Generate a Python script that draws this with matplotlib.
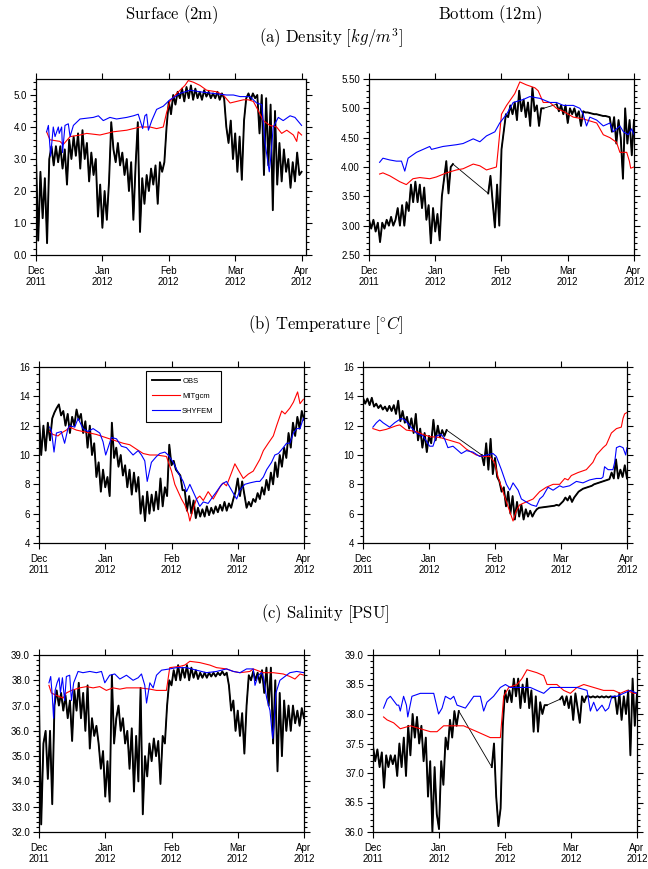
import matplotlib
matplotlib.use('Agg')
import matplotlib.pyplot as plt
import numpy as np
from matplotlib.ticker import MultipleLocator, FormatStrFormatter

plt.rcParams['font.family'] = 'Liberation Sans'
plt.rcParams['mathtext.fontset'] = 'cm'

W, H = 648, 869

# days since 1 Dec 2011, hourly record thinned to one value a day
days = np.arange(121)
month_ticks = [0, 30, 60, 90, 120]
month_labels = ['Dec\n2011', 'Jan\n2012', 'Feb\n2012', 'Mar\n2012', 'Apr\n2012']
nan = np.nan

# ---- density, surface ----
dens_sfc_obs = [3.0, 0.45, 2.6, 1.15, 2.4, 0.37, 3.0, 3.4, 2.8, 3.4,
                2.9, 3.4, 2.7, 3.3, 2.2, 3.6, 3.0, 3.7, 3.1, 3.8,
                2.7, 3.9, 3.0, 3.5, 2.3, 3.2, 2.5, 3.0, 1.2, 2.2,
                0.85, 2.0, 1.1, 2.3, 4.15, 3.3, 2.9, 3.5, 2.8, 3.2,
                2.5, 3.0, 2.0, 2.9, 1.1, 2.8, 4.15, 0.72, 2.4, 1.6,
                2.5, 2.0, 2.7, 2.2, 2.8, 1.6, 2.9, 2.6, 2.9, 4.0,
                4.8, 4.4, 5.0, 4.7, 5.1, 4.9, 5.2, 4.8, 5.25, 4.9,
                5.3, 4.85, 5.2, 4.9, 5.1, 4.85, 5.15, 4.95, 5.1, 4.9,
                5.05, 4.9, 5.1, 4.85, 5.05, 4.9, 4.0, 3.5, 4.2, 3.0,
                3.8, 2.6, 3.7, 2.35, 4.2, 4.9, 5.05, 4.85, 5.05, 4.9,
                5.0, 3.8, 5.0, 2.5, 4.9, 2.8, 4.7, 1.4, 4.5, 2.2,
                3.5, 2.3, 3.3, 2.6, 3.0, 2.1, 2.9, 2.3, 3.2, 2.5,
                2.6]
dens_sfc_mit_day = [4.8, 6.3, 10.8, 12.3, 15.4, 19.9, 22.9, 28.9, 31.9, 34.9,
                    41.0, 47.0, 51.5, 54.5, 57.5, 59.0, 60.5, 63.6, 67.3, 68.8,
                    71.1, 74.1, 77.1, 81.6, 84.6, 87.7, 90.7, 93.7, 95.9, 98.2,
                    100.5, 102.7, 105.7, 108.7, 111.0, 113.3, 116.3, 117.8, 118.5, 120.0]
dens_sfc_mit = [3.85, 3.6, 3.55, 3.45, 3.7, 3.75, 3.8, 3.75, 3.8, 3.85,
                3.9, 4.0, 4.0, 3.95, 4.0, 4.45, 4.8, 5.05, 5.3, 5.45,
                5.4, 5.3, 5.15, 5.1, 5.0, 4.75, 4.8, 4.85, 4.85, 4.8,
                4.5, 4.2, 4.05, 4.0, 3.8, 3.9, 3.75, 3.55, 3.85, 3.75]
dens_sfc_shy_day = [4.8, 5.6, 6.6, 7.8, 8.6, 10.1, 10.5, 11.6, 12.0, 13.1,
                    14.6, 15.4, 16.9, 19.9, 25.9, 28.2, 30.4, 33.4, 36.4, 41.0,
                    44.0, 46.2, 48.2, 49.2, 50.0, 50.8, 52.3, 54.5, 57.5, 60.5,
                    65.1, 69.6, 74.1, 80.1, 86.1, 89.2, 92.2, 96.7, 99.7, 102.0,
                    103.5, 105.4, 106.0, 107.2, 109.5, 111.7, 114.8, 117.0, 120.0]
dens_sfc_shy = [3.85, 4.05, 3.1, 4.0, 3.7, 4.0, 3.8, 4.0, 3.2, 4.05,
                4.1, 3.7, 4.05, 4.25, 4.3, 4.35, 4.2, 4.3, 4.25, 4.3,
                4.35, 4.4, 3.95, 4.35, 4.4, 3.9, 4.2, 4.55, 4.65, 4.85,
                5.05, 5.15, 5.1, 5.05, 5.0, 5.0, 4.95, 4.95, 4.75, 4.7,
                3.5, 2.6, 3.0, 4.0, 4.3, 4.2, 4.35, 4.3, 4.05]

# ---- density, bottom ----
dens_bot_obs = [3.1, 2.95, 3.1, 2.9, 3.05, 2.72, 3.05, 2.95, 3.1, 3.0,
                3.15, 3.0, 3.1, 3.3, 3.0, 3.35, 3.0, 3.4, 3.25, 3.7,
                3.4, 3.75, 3.4, 3.7, 3.3, 3.65, 3.1, 3.35, 2.7, 3.3,
                2.9, 3.2, 2.75, 3.5, 3.8, 4.1, 3.55, 4.0, 4.05, nan,
                nan, nan, nan, nan, nan, nan, nan, nan, nan, nan,
                nan, nan, nan, nan, 3.55, 3.85, 3.4, 2.97, 3.7, 3.0,
                4.3, 4.6, 4.9, 4.85, 5.05, 4.9, 5.1, 4.8, 5.3, 4.95,
                5.15, 4.85, 5.1, 4.7, 5.35, 4.95, 5.05, 4.7, 5.0, 5.0,
                nan, nan, nan, nan, nan, 5.07, 4.95, 5.05, 4.9, 5.05,
                4.75, 5.0, 4.9, 5.0, 4.85, 4.95, 4.7, 4.95, 4.93, 4.93,
                4.92, 4.91, 4.9, 4.9, 4.89, 4.88, 4.87, 4.87, 4.86, 4.85,
                4.6, 4.85, 4.4, 4.8, 4.5, 3.8, 5.0, 4.4, 4.8, 4.2,
                4.8]
dens_bot_mit_day = [4.8, 6.3, 9.4, 13.9, 16.9, 19.9, 23.0, 27.5, 30.5, 35.1,
                    39.6, 42.6, 47.2, 50.2, 53.2, 57.7, 58.5, 60.0, 62.3, 66.0,
                    68.3, 71.3, 75.1, 76.6, 78.9, 81.9, 84.9, 88.0, 92.5, 97.0,
                    103.1, 106.1, 109.1, 112.1, 113.6, 116.7, 117.9, 118.5, 120.0]
dens_bot_mit = [3.88, 3.9, 3.85, 3.75, 3.7, 3.8, 3.82, 3.8, 3.83, 3.9,
                3.95, 3.97, 4.05, 4.02, 3.95, 4.0, 4.3, 4.9, 5.05, 5.25,
                5.45, 5.4, 5.35, 5.3, 5.1, 5.1, 5.0, 4.95, 4.85, 4.82,
                4.75, 4.55, 4.5, 4.42, 4.25, 4.25, 4.1, 3.98, 4.0]
dens_bot_shy_day = [4.8, 6.3, 9.4, 12.4, 14.7, 16.2, 17.7, 21.5, 24.5, 27.5,
                    28.3, 33.5, 39.6, 42.6, 47.2, 50.2, 53.2, 57.0, 59.2, 62.3,
                    65.3, 69.8, 72.8, 77.4, 81.9, 84.9, 88.0, 92.5, 95.5, 97.0,
                    98.5, 100.0, 103.1, 106.1, 109.1, 110.6, 113.6, 115.2, 117.4, 118.9,
                    120.0]
dens_bot_shy = [4.08, 4.15, 4.12, 4.1, 4.1, 3.93, 4.15, 4.25, 4.3, 4.35,
                4.3, 4.35, 4.38, 4.4, 4.48, 4.43, 4.53, 4.6, 4.75, 4.9,
                5.1, 5.15, 5.2, 5.17, 5.1, 5.1, 5.05, 5.05, 5.0, 4.9,
                4.7, 4.85, 4.8, 4.7, 4.75, 4.6, 4.7, 4.6, 4.55, 4.65,
                4.55]

# ---- temperature, surface ----
temp_sfc_obs = [12.5, 10.0, 12.0, 10.3, 12.2, 11.0, 12.5, 12.9, 13.2, 13.45,
                12.7, 13.0, 12.0, 12.8, 11.5, 12.6, 12.0, 13.1, 12.4, 12.8,
                11.5, 12.3, 10.5, 12.0, 10.0, 10.8, 8.5, 9.5, 7.5, 9.0,
                7.8, 8.5, 7.2, 12.2, 9.8, 10.5, 9.2, 10.0, 8.6, 9.3,
                7.8, 9.0, 7.3, 8.8, 7.5, 8.5, 6.0, 7.2, 5.5, 7.5,
                6.0, 7.3, 6.2, 7.5, 6.3, 8.4, 6.5, 7.8, 7.2, 10.7,
                9.3, 9.6, 9.0, 8.8, 8.6, 7.6, 7.6, 6.2, 7.2, 6.0,
                6.9, 5.7, 6.4, 5.8, 6.3, 5.8, 6.5, 5.9, 6.4, 6.0,
                6.5, 6.1, 6.6, 6.2, 6.8, 6.2, 6.7, 6.4, 7.0, 7.5,
                8.4, 7.2, 8.2, 7.3, 6.4, 6.8, 6.5, 7.0, 6.8, 7.4,
                7.0, 7.8, 7.3, 8.3, 7.6, 8.8, 8.0, 9.5, 8.5, 10.0,
                9.2, 10.5, 9.8, 11.5, 10.5, 12.2, 11.3, 12.6, 11.8, 13.0,
                12.4]
temp_sfc_mit_day = [4.8, 6.3, 8.6, 10.1, 12.4, 13.9, 16.9, 19.9, 23.0, 26.0,
                    29.0, 32.0, 35.1, 38.1, 41.1, 42.6, 44.1, 47.2, 50.2, 53.2,
                    57.7, 60.0, 61.5, 63.0, 64.5, 66.0, 67.6, 68.3, 69.8, 71.3,
                    72.8, 74.4, 76.6, 78.9, 81.9, 83.4, 84.9, 87.2, 88.7, 90.2,
                    92.5, 94.8, 97.0, 98.5, 100.0, 101.6, 103.8, 106.1, 107.6, 109.9,
                    111.4, 113.6, 115.2, 117.1, 118.2, 119.7]
temp_sfc_mit = [11.6, 11.4, 11.3, 11.5, 11.7, 11.9, 11.7, 11.6, 11.5, 11.4,
                11.25, 11.1, 10.95, 10.8, 10.7, 10.55, 10.4, 10.1, 10.0, 10.0,
                9.9, 8.9, 8.0, 7.5, 7.0, 6.6, 6.0, 5.5, 6.3, 7.0,
                7.2, 6.9, 7.5, 7.0, 7.8, 8.1, 7.9, 8.8, 9.4, 9.0,
                8.4, 8.7, 8.9, 9.3, 9.7, 10.3, 10.8, 11.3, 12.0, 13.0,
                12.8, 13.2, 13.6, 14.3, 13.5, 13.8]
temp_sfc_shy_day = [4.8, 5.6, 6.8, 7.9, 10.1, 11.6, 13.1, 13.9, 16.2, 17.7,
                    19.9, 22.2, 24.5, 27.5, 29.0, 30.2, 31.3, 32.8, 35.1, 37.3,
                    39.6, 42.6, 44.9, 46.4, 47.9, 49.0, 50.9, 53.2, 54.7, 57.0,
                    58.5, 60.8, 63.0, 65.3, 66.8, 68.3, 69.8, 71.3, 72.8, 74.4,
                    76.6, 78.9, 80.4, 82.7, 84.9, 87.2, 88.7, 89.5, 91.0, 93.2,
                    95.5, 98.5, 100.0, 101.6, 103.1, 105.3, 106.8, 108.4, 110.6, 112.1,
                    113.6, 115.2, 116.7, 118.2, 119.7]
temp_sfc_shy = [11.9, 11.7, 10.2, 11.5, 11.6, 10.8, 11.8, 12.0, 11.9, 12.5,
                11.8, 11.6, 11.8, 11.5, 10.9, 10.0, 10.5, 11.2, 11.1, 10.6,
                10.5, 10.0, 10.3, 10.0, 9.6, 8.2, 9.5, 9.9, 10.1, 10.2,
                10.0, 9.5, 8.8, 8.2, 7.5, 8.0, 7.5, 7.0, 6.5, 6.8,
                6.7, 7.2, 7.5, 8.0, 8.2, 7.6, 7.2, 7.0, 7.6, 8.0,
                8.1, 8.2, 8.2, 8.5, 9.0, 9.5, 10.0, 10.1, 10.5, 10.8,
                10.8, 11.5, 11.8, 11.8, 12.5]

# ---- temperature, bottom ----
temp_bot_obs = [13.9, 13.5, 13.85, 13.4, 13.9, 13.3, 13.5, 13.2, 13.4, 13.1,
                13.3, 13.0, 13.35, 13.0, 13.4, 12.8, 13.7, 12.3, 13.0, 12.2,
                12.6, 11.8, 12.5, 11.5, 12.8, 11.0, 11.8, 10.5, 11.5, 10.2,
                11.3, 10.8, 12.4, 11.0, 12.0, 11.2, 11.7, 11.3, 11.7, nan,
                nan, nan, nan, nan, nan, nan, nan, nan, nan, nan,
                nan, nan, nan, nan, 10.0, 9.3, 10.8, 9.0, 11.1, 8.7,
                9.8, 8.5, 8.2, 7.5, 7.8, 6.5, 7.5, 6.0, 7.2, 5.6,
                6.8, 5.8, 6.6, 5.6, 6.3, 5.8, 6.2, 5.8, 6.1, 6.3,
                6.4, 6.42, 6.44, 6.46, 6.48, 6.5, 6.52, 6.54, 6.6, 6.55,
                6.7, 6.85, 7.1, 6.9, 7.2, 6.8, 7.1, 7.3, 7.5, 7.6,
                7.7, 7.75, 7.8, 7.85, 7.9, 8.0, 8.05, 8.1, 8.15, 8.2,
                8.25, 8.3, 8.35, 8.8, 8.4, 9.7, 8.4, 9.0, 8.5, 9.3,
                8.4]
temp_bot_mit_day = [4.5, 7.6, 10.6, 15.2, 16.7, 19.7, 24.2, 27.3, 30.3, 34.8,
                    39.4, 43.9, 47.0, 49.2, 51.5, 54.5, 57.6, 59.8, 61.4, 63.6,
                    65.9, 68.2, 69.7, 71.2, 74.2, 77.3, 80.3, 83.3, 86.4, 89.4,
                    91.7, 93.2, 94.7, 97.7, 101.5, 104.5, 106.1, 109.1, 110.6, 112.9,
                    115.2, 117.4, 118.2, 118.9, 120.0]
temp_bot_mit = [11.8, 11.65, 11.75, 12.0, 12.05, 11.7, 11.6, 11.4, 11.25, 11.2,
                11.0, 10.8, 10.4, 10.2, 10.0, 9.9, 9.9, 9.5, 8.5, 7.5,
                6.5, 5.5, 6.2, 6.6, 6.8, 7.0, 7.5, 7.8, 8.0, 8.0,
                8.4, 8.3, 8.6, 8.8, 9.0, 9.5, 10.0, 10.5, 10.7, 11.5,
                11.8, 11.9, 12.5, 12.8, 12.9]
temp_bot_shy_day = [4.5, 6.1, 7.6, 9.1, 12.1, 14.4, 17.4, 18.9, 21.2, 24.2,
                    27.3, 30.3, 31.8, 33.3, 35.6, 37.1, 38.6, 40.9, 43.2, 44.7,
                    47.0, 50.0, 53.0, 56.1, 59.1, 60.6, 62.9, 65.2, 66.7, 68.2,
                    70.5, 72.0, 74.2, 76.5, 78.8, 80.3, 81.8, 84.1, 86.4, 89.4,
                    90.9, 93.9, 97.0, 100.0, 103.0, 106.1, 108.3, 109.1, 109.8, 111.4,
                    113.6, 114.4, 115.2, 116.7, 118.2, 119.4, 120.0]
temp_bot_shy = [11.9, 12.2, 12.4, 12.2, 11.9, 12.2, 12.5, 12.4, 12.0, 11.5,
                11.3, 10.6, 10.6, 11.3, 11.4, 11.1, 10.5, 10.6, 10.3, 10.1,
                10.3, 10.2, 9.9, 10.0, 10.1, 9.9, 9.0, 8.0, 7.6, 8.1,
                7.6, 7.0, 6.8, 6.6, 6.5, 7.0, 7.2, 7.8, 7.6, 7.9,
                7.8, 7.9, 8.2, 8.1, 8.3, 8.4, 8.4, 8.5, 9.2, 9.0,
                9.0, 9.5, 10.5, 10.6, 10.5, 10.0, 10.5]

# ---- salinity, surface ----
sal_sfc_obs = [37.0, 32.3, 35.5, 36.0, 34.1, 36.0, 33.1, 37.0, 37.6, 37.0,
               37.5, 36.8, 37.4, 36.5, 37.2, 35.6, 37.6, 36.8, 37.9, 36.5,
               37.5, 36.0, 37.8, 35.3, 36.5, 35.8, 36.2, 35.5, 34.5, 35.2,
               33.4, 34.8, 33.2, 38.2, 35.5, 36.5, 37.0, 36.0, 36.5, 35.5,
               36.0, 34.5, 36.1, 33.6, 35.8, 34.0, 37.7, 32.7, 35.0, 34.2,
               35.5, 34.8, 35.7, 35.0, 35.6, 33.9, 35.8, 35.5, 37.0, 38.0,
               37.8, 38.4, 38.0, 38.6, 38.0, 38.5, 38.1, 38.6, 38.0, 38.5,
               38.1, 38.4, 38.05, 38.3, 38.1, 38.3, 38.1, 38.3, 38.15, 38.3,
               38.15, 38.3, 38.2, 38.35, 38.2, 38.3, 37.8, 36.8, 37.2, 36.0,
               36.8, 35.8, 36.7, 35.1, 37.0, 38.2, 38.0, 38.35, 38.0, 38.3,
               37.9, 38.4, 37.5, 38.5, 37.0, 38.5, 35.5, 38.0, 34.4, 37.5,
               35.0, 37.2, 36.0, 37.0, 36.0, 37.0, 36.3, 36.8, 36.2, 36.9,
               36.5]
sal_sfc_mit_day = [4.5, 5.6, 7.9, 10.9, 12.4, 14.7, 18.4, 21.5, 24.5, 27.5,
                   30.5, 33.5, 36.6, 39.6, 45.6, 50.2, 53.2, 57.7, 59.2, 63.8,
                   66.0, 68.3, 72.8, 77.4, 80.4, 84.9, 88.0, 91.0, 95.5, 97.0,
                   101.6, 106.1, 110.6, 113.6, 115.9, 118.2, 120.0]
sal_sfc_mit = [37.8, 37.5, 37.4, 37.3, 37.5, 37.6, 37.7, 37.75, 37.7, 37.75,
               37.6, 37.7, 37.65, 37.7, 37.7, 37.65, 37.6, 37.6, 38.5, 38.55,
               38.6, 38.75, 38.7, 38.6, 38.5, 38.45, 38.35, 38.3, 38.35, 38.45,
               38.3, 38.3, 38.25, 38.15, 38.05, 38.25, 38.2]
sal_sfc_shy_day = [4.5, 5.3, 6.0, 6.6, 7.3, 8.2, 9.1, 9.7, 10.6, 11.6,
                   12.4, 13.9, 14.7, 15.7, 17.7, 19.9, 23.0, 26.0, 28.3, 29.8,
                   32.0, 34.3, 36.6, 39.6, 42.6, 44.9, 46.4, 47.9, 48.7, 50.2,
                   51.7, 53.2, 55.5, 59.2, 62.3, 66.8, 71.3, 75.9, 80.4, 84.9,
                   88.0, 91.0, 94.0, 97.0, 97.8, 99.3, 100.8, 101.6, 103.1, 104.6,
                   105.8, 106.4, 107.3, 109.1, 110.6, 112.1, 113.6, 116.7, 120.0]
sal_sfc_shy = [37.9, 38.15, 37.4, 36.5, 37.6, 37.9, 38.1, 37.5, 38.1, 37.2,
               38.15, 38.2, 37.2, 37.9, 38.35, 38.3, 38.35, 38.3, 38.35, 37.9,
               38.2, 38.25, 38.05, 38.2, 38.0, 38.1, 38.25, 37.8, 37.1, 37.9,
               37.7, 38.2, 38.4, 38.45, 38.5, 38.5, 38.4, 38.3, 38.35, 38.45,
               38.35, 38.3, 38.45, 38.45, 37.8, 38.2, 38.3, 38.1, 37.3, 36.8,
               35.7, 36.2, 37.5, 38.0, 38.1, 38.2, 38.3, 38.35, 38.3]

# ---- salinity, bottom ----
sal_bot_obs = [37.45, 37.2, 37.4, 37.1, 37.35, 36.75, 37.3, 37.1, 37.3, 37.15,
               37.3, 36.95, 37.5, 37.1, 37.6, 36.95, 37.8, 37.3, 38.0, 37.6,
               37.95, 37.5, 37.8, 37.2, 37.6, 36.6, 37.2, 36.0, 37.1, 36.3,
               36.05, 37.2, 36.8, 37.6, 37.4, 37.9, 37.6, 38.05, 37.8, 38.05,
               nan, nan, nan, nan, nan, nan, nan, nan, nan, nan,
               nan, nan, nan, nan, 37.1, 37.5, 36.6, 36.1, 36.4, 37.8,
               38.4, 38.2, 38.4, 38.2, 38.6, 38.3, 38.6, 38.1, 38.5, 38.2,
               38.6, 38.1, 38.4, 37.7, 38.3, 37.7, 38.2, 38.0, 38.15, 38.15,
               nan, nan, nan, nan, nan, 38.25, 38.3, 38.15, 38.3, 38.1,
               38.3, 37.9, 38.35, 38.1, 37.85, 38.3, 38.2, 38.3, 38.3, 38.28,
               38.3, 38.28, 38.3, 38.28, 38.3, 38.28, 38.3, 38.28, 38.3, 38.28,
               38.3, 38.0, 38.35, 37.9, 38.3, 38.0, 38.4, 37.3, 38.6, 37.8,
               38.35]
sal_bot_mit_day = [4.8, 6.4, 9.4, 10.9, 12.4, 17.0, 21.5, 26.1, 29.1, 32.1,
                   36.7, 41.2, 44.2, 47.3, 50.3, 53.3, 57.9, 59.4, 61.7, 65.5,
                   67.7, 70.0, 74.5, 77.6, 79.1, 83.6, 86.7, 89.7, 92.7, 95.8,
                   100.3, 104.8, 109.4, 112.4, 115.5, 118.5, 120.0]
sal_bot_mit = [37.95, 37.9, 37.85, 37.8, 37.75, 37.8, 37.75, 37.7, 37.7, 37.8,
               37.8, 37.8, 37.75, 37.7, 37.65, 37.6, 37.6, 38.3, 38.45, 38.5,
               38.6, 38.75, 38.7, 38.65, 38.5, 38.5, 38.4, 38.35, 38.45, 38.5,
               38.45, 38.4, 38.4, 38.35, 38.4, 38.35, 38.35]
sal_bot_shy_day = [4.8, 6.4, 7.9, 10.9, 11.7, 12.4, 13.9, 15.2, 15.8, 17.7,
                   21.5, 27.6, 29.8, 31.4, 32.9, 35.2, 36.7, 38.2, 42.0, 45.8,
                   48.8, 50.3, 51.8, 54.8, 57.9, 60.2, 62.4, 67.0, 71.5, 74.5,
                   77.6, 80.6, 86.7, 92.7, 97.3, 98.8, 100.3, 101.8, 104.1, 105.6,
                   107.1, 108.6, 110.9, 113.9, 117.0, 120.0]
sal_bot_shy = [38.1, 38.25, 38.3, 38.15, 38.15, 38.05, 38.3, 38.15, 37.95, 38.3,
               38.35, 38.35, 38.0, 38.1, 38.3, 38.25, 38.3, 38.15, 38.1, 38.3,
               38.3, 38.05, 38.2, 38.3, 38.45, 38.5, 38.45, 38.45, 38.45, 38.4,
               38.35, 38.45, 38.45, 38.45, 38.4, 38.05, 38.2, 38.05, 38.15, 38.05,
               38.1, 38.3, 38.3, 38.35, 38.4, 38.35]


fig = plt.figure(figsize=(W / 100, H / 100), dpi=100)


def px_axes(left, top, right, bottom):
    return fig.add_axes([left / W, 1 - bottom / H, (right - left) / W, (bottom - top) / H])


def panel(ax, obs, mit_day, mit, shy_day, shy, ylim, major, minor, fmt, xmax=120):
    obs = np.array(obs, dtype=float)
    ok = ~np.isnan(obs)
    # thin connector across missing data, then the record itself
    ax.plot(days[ok], obs[ok], color='black', lw=0.6)
    ax.plot(days, obs, color='black', lw=1.35, label='OBS')
    ax.plot(mit_day, mit, color='red', lw=0.8, label='MITgcm')
    ax.plot(shy_day, shy, color='blue', lw=0.8, label='SHYFEM')

    ax.set_xlim(0, xmax)
    ax.set_ylim(*ylim)
    ax.set_xticks(month_ticks)
    ax.set_xticklabels(month_labels, linespacing=1.15)
    ax.yaxis.set_major_locator(MultipleLocator(major))
    ax.yaxis.set_minor_locator(MultipleLocator(minor))
    ax.yaxis.set_major_formatter(FormatStrFormatter(fmt))
    ax.tick_params(axis='both', which='both', direction='out', width=0.8,
                   labelsize=7, top=True, right=True)
    ax.tick_params(axis='y', which='major', length=4, pad=2.5)
    ax.tick_params(axis='y', which='minor', length=2)
    ax.tick_params(axis='x', which='major', length=4, pad=4)
    ax.tick_params(axis='x', which='minor', length=0)
    for s in ax.spines.values():
        s.set_linewidth(0.9)
    return ax


ax = px_axes(36, 79, 306, 255)
panel(ax, dens_sfc_obs, dens_sfc_mit_day, dens_sfc_mit, dens_sfc_shy_day, dens_sfc_shy,
      (0, 5.5), 1.0, 0.2, '%.1f', xmax=122)

ax = px_axes(369, 79, 634, 255)
panel(ax, dens_bot_obs, dens_bot_mit_day, dens_bot_mit, dens_bot_shy_day, dens_bot_shy,
      (2.5, 5.5), 0.5, 0.1, '%.2f')

ax = px_axes(39, 367, 304, 543)
panel(ax, temp_sfc_obs, temp_sfc_mit_day, temp_sfc_mit, temp_sfc_shy_day, temp_sfc_shy,
      (4, 16), 2, 0.5, '%d')
leg = ax.legend(loc='upper left', bbox_to_anchor=(0.3875, 1.0), fontsize=5.5,
                handlelength=3.6, handletextpad=0.3, labelspacing=1.0,
                borderpad=0.9, fancybox=False, framealpha=1, edgecolor='black')
leg.get_frame().set_linewidth(0.8)

ax = px_axes(363, 367, 627, 543)
panel(ax, temp_bot_obs, temp_bot_mit_day, temp_bot_mit, temp_bot_shy_day, temp_bot_shy,
      (4, 16), 2, 0.5, '%d')

ax = px_axes(39, 655, 304, 832)
panel(ax, sal_sfc_obs, sal_sfc_mit_day, sal_sfc_mit, sal_sfc_shy_day, sal_sfc_shy,
      (32, 39), 1.0, 0.2, '%.1f')

ax = px_axes(373, 655, 637, 832)
panel(ax, sal_bot_obs, sal_bot_mit_day, sal_bot_mit, sal_bot_shy_day, sal_bot_shy,
      (36, 39), 0.5, 0.1, '%.1f')

# column and row headings
fig.text(172 / W, 1 - 15 / H, r'$\mathrm{Surface\ (2m)}$', ha='center', va='center', fontsize=12)
fig.text(490 / W, 1 - 15 / H, r'$\mathrm{Bottom\ (12m)}$', ha='center', va='center', fontsize=12)
fig.text(331 / W, 1 - 38 / H, r'$\mathrm{(a)\ Density\ [}kg/m^3\mathrm{]}$',
         ha='center', va='center', fontsize=12)
fig.text(326 / W, 1 - 325 / H, r'$\mathrm{(b)\ Temperature\ [}^{\circ}C\mathrm{]}$',
         ha='center', va='center', fontsize=12)
fig.text(325 / W, 1 - 614 / H, r'$\mathrm{(c)\ Salinity\ [PSU]}$',
         ha='center', va='center', fontsize=12)

fig.savefig('out.png', dpi=100)
